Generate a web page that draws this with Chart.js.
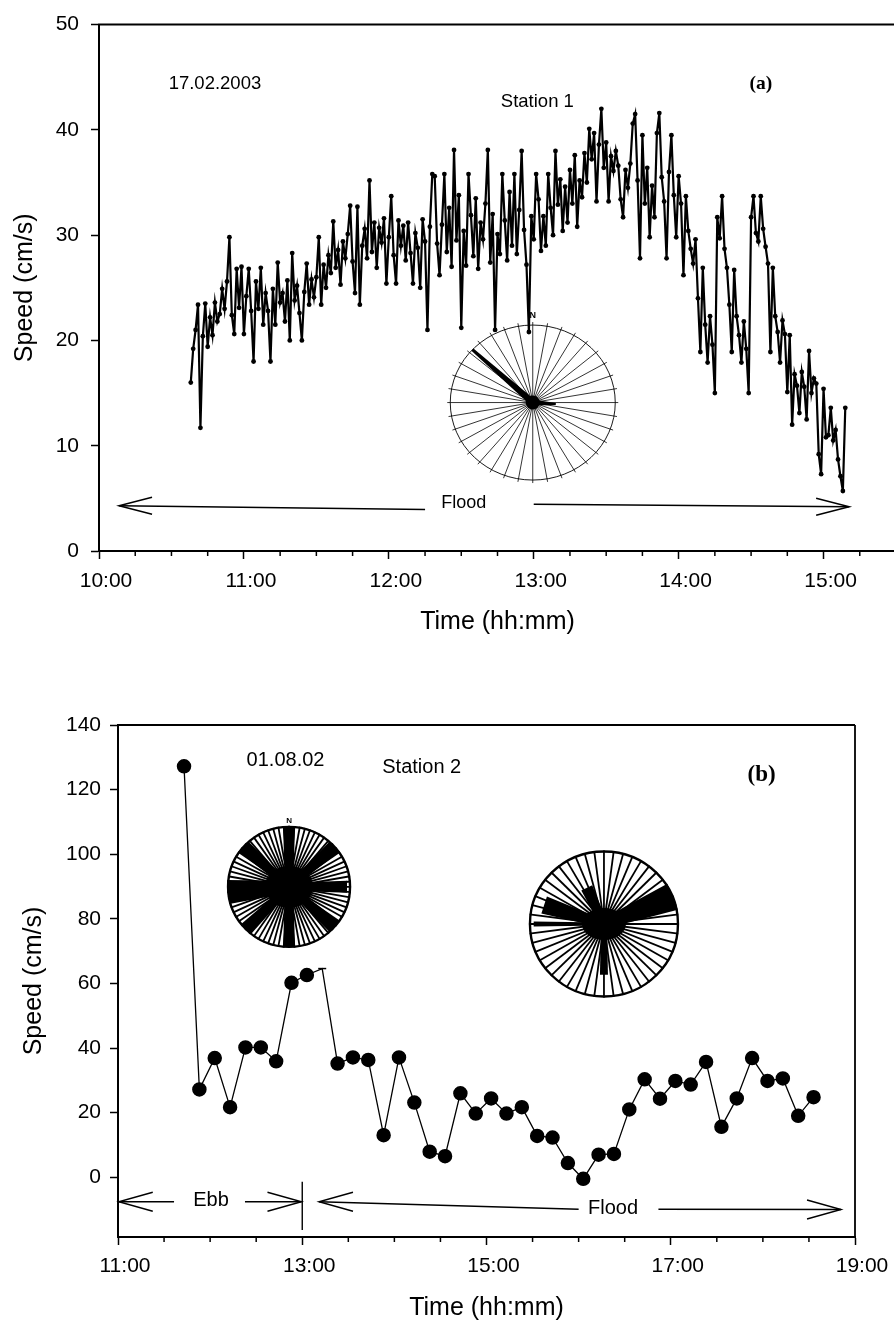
<!DOCTYPE html>
<html><head><meta charset="utf-8">
<script src="https://cdn.jsdelivr.net/npm/chart.js@4.4.1/dist/chart.umd.min.js"></script>
<style>
html,body{margin:0;padding:0;background:#fff;overflow:hidden;width:894px;height:1324px;position:relative;}
#wrapA{position:absolute;left:0;top:0;width:900px;height:650px;}
#wrapB{position:absolute;left:0;top:650px;width:894px;height:674px;}
canvas{display:block;}
</style></head><body>
<div id="wrapA"><canvas id="chartA" width="900" height="650"></canvas></div>
<div id="wrapB"><canvas id="chartB" width="894" height="674"></canvas></div>
<script>
// ---------- DATA ----------
// Panel (a): Station 1, 17.02.2003, one sample per minute starting 10:38
const startA = '10:38';
const speedA = [
16.0, 19.2,
21.0, 23.4, 11.7, 20.4, 23.5, 19.4, 22.2, 20.5, 23.6, 21.8,
22.5, 24.9, 23.0, 25.6, 29.8, 22.4, 20.6, 26.8, 23.1, 27.0,
20.6, 24.2, 26.8, 22.8, 18.0, 25.6, 23.0, 26.9, 21.5, 24.5,
22.8, 18.0, 24.9, 21.5, 27.4, 23.6, 24.5, 21.8, 25.7, 20.0,
28.3, 23.8, 25.2, 22.6, 20.0, 24.6, 27.3, 23.4, 25.8, 24.1,
26.0, 29.8, 23.4, 27.2, 25.0, 28.1, 26.4, 31.3, 26.9, 28.6,
25.3, 29.4, 27.8, 30.1, 32.8, 27.5, 24.5, 32.7, 23.4, 29.0,
30.6, 27.8, 35.2, 28.4, 31.2, 26.9, 30.7, 29.3, 31.6, 25.4,
29.8, 33.7, 28.1, 25.4, 31.4, 29.0, 30.9, 27.6, 31.2, 28.3,
25.4, 30.2, 28.8, 25.0, 31.5, 29.4, 21.0, 30.8, 35.8, 35.6,
29.2, 26.2, 31.0, 35.8, 28.4, 32.6, 27.0, 38.1, 29.5, 33.8,
21.2, 30.4, 27.1, 35.8, 31.9, 28.0, 33.5, 26.8, 31.2, 29.6,
33.0, 38.1, 27.4, 32.0, 21.0, 30.1, 28.2, 35.8, 31.4, 27.6,
34.1, 29.0, 35.8, 28.2, 32.4, 38.0, 30.5, 27.2, 20.8, 31.8,
29.6, 35.8, 33.4, 28.5, 31.8, 29.0, 35.8, 32.6, 30.0, 38.0,
32.9, 35.3, 30.4, 34.6, 31.2, 36.2, 33.0, 37.6, 30.8, 35.2,
33.6, 37.8, 35.0, 40.1, 37.2, 39.7, 33.2, 38.6, 42.0, 36.4,
38.8, 33.2, 37.5, 36.1, 38.0, 36.6, 33.4, 31.7, 36.2, 34.5,
36.8, 40.6, 41.5, 35.2, 27.8, 39.5, 33.0, 36.4, 29.8, 34.7,
31.7, 39.7, 41.6, 35.5, 33.2, 27.8, 36.0, 39.5, 33.8, 29.8,
35.6, 33.0, 26.2, 33.7, 30.4, 28.7, 27.3, 29.6, 24.0, 18.9,
26.9, 21.5, 17.9, 22.3, 19.6, 15.0, 31.7, 29.7, 33.7, 28.7,
26.9, 23.4, 18.9, 26.7, 22.3, 20.5, 17.9, 21.8, 19.2, 15.0,
31.7, 33.7, 30.2, 29.4, 33.7, 30.6, 28.9, 27.3, 18.9, 26.9,
22.3, 20.8, 17.9, 21.9, 20.6, 15.1, 20.5, 12.0, 16.8, 15.7,
13.1, 17.0, 15.6, 12.5, 19.0, 15.0, 16.4, 15.9, 9.2, 7.3,
15.4, 10.8, 11.0, 13.6, 10.5, 11.5, 8.7, 7.1, 5.7, 13.6
];
const stepA = 1; // minutes between samples
const xTickLabelsA = ['10:00','11:00','12:00','13:00','14:00','15:00'];
const yTicksA = [0, 10, 20, 30, 40, 50];

// Panel (b): Station 2, 01.08.02, one sample every 10 minutes starting 11:43
const startB = '11:43';
const stepB = 10;
const speedB = [127.2, 27.2, 36.9, 21.7, 40.2, 40.2, 35.9, 60.2, 62.6, 64.6,
  35.2, 37.1, 36.3, 13.0, 37.1, 23.1, 7.9, 6.5, 26.0, 19.7,
  24.4, 19.7, 21.7, 12.8, 12.3, 4.4, -0.5, 7.0, 7.2, 21.0,
  30.3, 24.3, 29.8, 28.7, 35.7, 15.6, 24.4, 36.9, 29.8, 30.6,
  19.0, 24.8];
const xTickLabelsB = ['11:00','13:00','15:00','17:00','19:00'];
const yTicksB = [0, 20, 40, 60, 80, 100, 120, 140];

// Current-rose petals (bearing in degrees, length as fraction of radius)
const rosePetalsA = [{dir: 313, len: 1.0}, {dir: 94, len: 0.28}];
const rosePetalsB1 = [{dir: 0, len: 1.0}, {dir: 48, len: 1.0}, {dir: 90, len: 0.95}, {dir: 132, len: 1.0},
  {dir: 180, len: 1.0}, {dir: 225, len: 1.0}, {dir: 265, len: 1.0}, {dir: 312, len: 1.0}];
const rosePetalsB2 = [{dir: 68, len: 1.0}, {dir: 288, len: 0.85}, {dir: 270, len: 0.95},
  {dir: 335, len: 0.55}, {dir: 180, len: 0.7}];

// ---------- HELPERS ----------
const FONT = '"Liberation Sans", Arial, Helvetica, sans-serif';
const SERIF = '"Liberation Serif", "Times New Roman", serif';
const toMin = s => { const [h, m] = s.split(':').map(Number); return h * 60 + m; };
const fmt = v => { const h = Math.floor(v / 60), m = Math.round(v % 60); return h + ':' + String(m).padStart(2, '0'); };

const timesA = speedA.map((_, i) => toMin(startA) + i * stepA);
const timesB = speedB.map((_, i) => toMin(startB) + i * stepB);
const xTicksA = xTickLabelsA.map(toMin);
const xTicksB = xTickLabelsB.map(toMin);

function seg(ctx, x1, y1, x2, y2) { ctx.beginPath(); ctx.moveTo(x1, y1); ctx.lineTo(x2, y2); ctx.stroke(); }
function head(ctx, tx, ty, dir, len, half) {
  ctx.beginPath(); ctx.moveTo(tx - dir * len, ty - half); ctx.lineTo(tx, ty); ctx.lineTo(tx - dir * len, ty + half); ctx.stroke();
}
function text(ctx, s, x, y, font) {
  ctx.font = font; ctx.fillStyle = '#000'; ctx.textAlign = 'center'; ctx.textBaseline = 'middle'; ctx.fillText(s, x, y);
}
function drawRose(ctx, cx, cy, rx, ry, o) {
  ctx.save();
  ctx.strokeStyle = '#000'; ctx.fillStyle = '#000';
  ctx.lineWidth = o.spokeW;
  for (let k = 0; k < o.spokes; k++) {
    const a = k * 2 * Math.PI / o.spokes;
    seg(ctx, cx, cy, cx + (rx + o.ext) * Math.sin(a), cy - (ry + o.ext) * Math.cos(a));
  }
  ctx.lineWidth = o.ringW;
  ctx.beginPath(); ctx.ellipse(cx, cy, rx, ry, 0, 0, 2 * Math.PI); ctx.stroke();
  o.petals.forEach((p, i) => {
    const a = p.dir * Math.PI / 180;
    const ux = Math.sin(a), uy = -Math.cos(a);
    const px = -uy, py = ux;
    const w0 = o.w0[i] / 2, w1 = o.w1[i] / 2;
    const ex = cx + rx * p.len * ux, ey = cy + ry * p.len * uy;
    ctx.beginPath();
    ctx.moveTo(cx + px * w0, cy + py * w0);
    ctx.lineTo(ex + px * w1, ey + py * w1);
    ctx.lineTo(ex - px * w1, ey - py * w1);
    ctx.lineTo(cx - px * w0, cy - py * w0);
    ctx.closePath(); ctx.fill();
  });
  ctx.beginPath(); ctx.ellipse(cx, cy, o.blob, o.blobY || o.blob, 0, 0, 2 * Math.PI); ctx.fill();
  if (o.north) text(ctx, 'N', cx, cy - ry - o.northOff, 'bold ' + o.north + 'px ' + FONT);
  ctx.restore();
}

Chart.defaults.font.family = FONT;
Chart.defaults.color = '#000';

function axisCommon(tickFont, pad) {
  return {
    type: 'linear',
    ticks: { font: { size: tickFont, family: FONT }, color: '#000', padding: pad, autoSkip: false, maxRotation: 0 },
    grid: { drawOnChartArea: false, drawTicks: true, tickLength: 8, tickColor: '#000', tickWidth: 1.5, color: '#000' },
    border: { display: true, color: '#000', width: 2 }
  };
}

// ---------- CHART A ----------
const decorA = {
  id: 'decorA',
  afterDraw(chart) {
    const { ctx, chartArea: a, scales: { x, y } } = chart;
    const X = v => x.getPixelForValue(v), Y = v => y.getPixelForValue(v);
    ctx.save();
    ctx.strokeStyle = '#000';
    ctx.lineWidth = 2;
    seg(ctx, a.left - 1, a.top, a.right, a.top);
    ctx.lineWidth = 1.5;
    for (let t = 615; t < 930; t += 15) if (t % 60) seg(ctx, X(t), a.bottom, X(t), a.bottom + 5);
    // texts
    text(ctx, '17.02.2003', X(648), Y(44.4), '18.5px ' + FONT);
    text(ctx, 'Station 1', X(781.5), Y(42.7), '18.5px ' + FONT);
    text(ctx, '(a)', X(874), Y(44.4), 'bold 19.5px ' + SERIF);
    // Flood arrow
    ctx.lineWidth = 1.5;
    seg(ctx, X(608.3), Y(4.3), X(735), Y(3.95));
    head(ctx, X(608.3), Y(4.3), -1, 33, 8.5);
    seg(ctx, X(780), Y(4.45), X(910.6), Y(4.2));
    head(ctx, X(910.6), Y(4.2), 1, 33, 8.5);
    text(ctx, 'Flood', X(751), Y(4.6), '18px ' + FONT);
    // current rose
    drawRose(ctx, X(779.6), Y(14.1), 82.5, 77.5, {
      spokes: 36, spokeW: 0.8, ringW: 0.9, ext: 3, petals: rosePetalsA,
      w0: [7, 6], w1: [3, 2], blob: 7, north: 9, northOff: 10
    });
    ctx.restore();
  }
};

const xA = axisCommon(21, 10);
Object.assign(xA, {
  min: 600, max: 930,
  afterBuildTicks: s => { s.ticks = xTicksA.map(v => ({ value: v })); },
  afterFit: s => { s.height = 99; },
  title: { display: true, text: 'Time (hh:mm)', font: { size: 25, family: FONT }, color: '#000', padding: { top: 0, bottom: 13 } }
});
xA.ticks.callback = v => fmt(v);
xA.ticks.labelOffset = 7;

const yA = axisCommon(21, 12);
Object.assign(yA, {
  min: 0, max: 50,
  afterBuildTicks: s => { s.ticks = yTicksA.map(v => ({ value: v })); },
  afterFit: s => { s.width = 99; },
  title: { display: true, text: 'Speed (cm/s)', font: { size: 25, family: FONT }, color: '#000', padding: { top: 10, bottom: 0 } }
});

new Chart(document.getElementById('chartA'), {
  type: 'line',
  data: {
    datasets: [{
      data: timesA.map((t, i) => ({ x: t, y: speedA[i] })),
      borderColor: '#000', borderWidth: 2.2,
      pointRadius: 2.4, pointBackgroundColor: '#000', pointBorderWidth: 0,
      tension: 0, fill: false
    }]
  },
  options: {
    responsive: false, animation: false,
    layout: { padding: { top: 17, left: 0, right: 0, bottom: 0 } },
    plugins: { legend: { display: false }, tooltip: { enabled: false } },
    scales: { x: xA, y: yA }
  },
  plugins: [decorA]
});

// ---------- CHART B ----------
const decorB = {
  id: 'decorB',
  afterDraw(chart) {
    const { ctx, chartArea: a, scales: { x, y } } = chart;
    const X = v => x.getPixelForValue(v), Y = v => y.getPixelForValue(v);
    ctx.save();
    ctx.strokeStyle = '#000';
    ctx.lineWidth = 1.8;
    seg(ctx, a.left - 1, a.top, a.right, a.top);
    seg(ctx, a.right, a.top, a.right, a.bottom);
    ctx.lineWidth = 1.5;
    for (let t = 690; t < 1140; t += 30) if ((t - 660) % 120) seg(ctx, X(t), a.bottom, X(t), a.bottom + 5);
    text(ctx, '01.08.02', X(769.1), Y(128.9), '20px ' + FONT);
    text(ctx, 'Station 2', X(857.8), Y(126.7), '20px ' + FONT);
    text(ctx, '(b)', X(1079.2), Y(124.5), 'bold 23px ' + SERIF);
    // Ebb arrow
    ctx.lineWidth = 1.4;
    seg(ctx, X(660.5), Y(-7.6), X(696.5), Y(-7.6));
    head(ctx, X(660.5), Y(-7.6), -1, 34, 9.5);
    seg(ctx, X(742.7), Y(-7.6), X(779.5), Y(-7.6));
    head(ctx, X(779.5), Y(-7.6), 1, 34, 9.5);
    text(ctx, 'Ebb', X(720.6), Y(-7.1), '20px ' + FONT);
    seg(ctx, X(780), Y(-1.4), X(780), Y(-16.3));
    // Flood arrow
    seg(ctx, X(790.9), Y(-7.6), X(960), Y(-9.9));
    head(ctx, X(790.9), Y(-7.6), -1, 34, 9.5);
    seg(ctx, X(1012), Y(-9.9), X(1130.9), Y(-10));
    head(ctx, X(1130.9), Y(-10), 1, 34, 9.5);
    text(ctx, 'Flood', X(982.4), Y(-9.6), '20px ' + FONT);
    // current roses
    drawRose(ctx, X(771.4), Y(89.9), 61, 60, {
      spokes: 72, spokeW: 1.8, ringW: 2.4, ext: 1, petals: rosePetalsB1,
      w0: [8, 6, 8, 6, 8, 6, 12, 6], w1: [12, 14, 12, 14, 12, 14, 24, 14], blob: 24, blobY: 21, north: 8, northOff: 6
    });
    drawRose(ctx, X(976.5), Y(78.4), 74, 72.5, {
      spokes: 48, spokeW: 1.8, ringW: 2.4, ext: 1, petals: rosePetalsB2,
      w0: [10, 8, 3, 8, 6], w1: [28, 18, 5, 12, 8], blob: 22, blobY: 16, north: 0, northOff: 0
    });
    ctx.restore();
  }
};

const xB = axisCommon(21, 9);
Object.assign(xB, {
  min: 660, max: 1140,
  afterBuildTicks: s => { s.ticks = xTicksB.map(v => ({ value: v })); },
  afterFit: s => { s.height = 87; },
  title: { display: true, text: 'Time (hh:mm)', font: { size: 25, family: FONT }, color: '#000', padding: { top: 0, bottom: 1 } }
});
xB.ticks.callback = v => fmt(v);
xB.ticks.labelOffset = 7;

const yB = axisCommon(21, 9);
Object.assign(yB, {
  min: -18.5, max: 140,
  afterBuildTicks: s => { s.ticks = yTicksB.map(v => ({ value: v })); },
  afterFit: s => { s.width = 118; },
  title: { display: true, text: 'Speed (cm/s)', font: { size: 25, family: FONT }, color: '#000', padding: { top: 19, bottom: 0 } }
});

new Chart(document.getElementById('chartB'), {
  type: 'line',
  data: {
    datasets: [{
      data: timesB.map((t, i) => ({ x: t, y: speedB[i] })),
      borderColor: '#000', borderWidth: 1.3,
      pointRadius: speedB.map((_, i) => i === 9 ? 4 : 6.5),
      pointStyle: speedB.map((_, i) => i === 9 ? 'line' : 'circle'),
      pointBackgroundColor: '#000', pointBorderColor: '#000', pointBorderWidth: 1.5,
      tension: 0, fill: false
    }]
  },
  options: {
    responsive: false, animation: false,
    layout: { padding: { top: 75, left: 0, right: 39, bottom: 0 } },
    plugins: { legend: { display: false }, tooltip: { enabled: false } },
    scales: { x: xB, y: yB }
  },
  plugins: [decorB]
});
</script>
</body></html>
